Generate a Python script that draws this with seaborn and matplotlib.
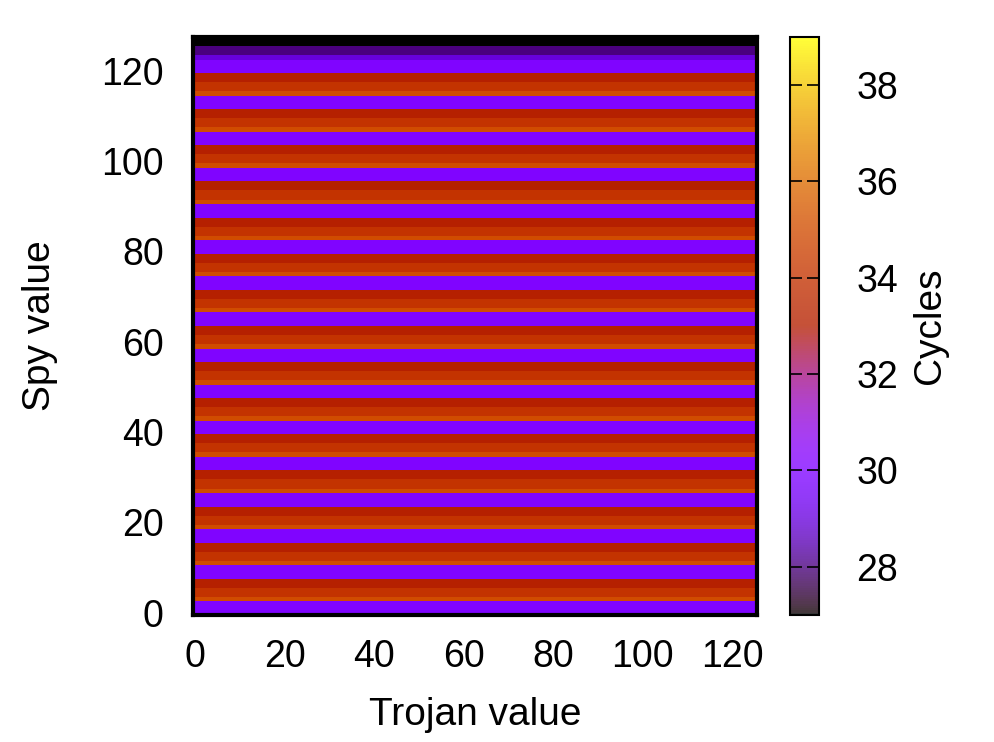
import numpy as np
import pandas as pd
import seaborn as sns
import matplotlib.pyplot as plt
from matplotlib.cm import ScalarMappable
from matplotlib.colors import Normalize, ListedColormap

# trojan values on x, spy values on y
trojan_values = list(range(126))
spy_values = list(range(128))

# cycles for each spy value (same for every trojan value)
cycles = [
    30, 30, 30, 35, 34, 34, 33, 33,   # 0-7
    30, 30, 30, 35, 34, 34, 33, 33,   # 8-15
    30, 30, 30, 35, 34, 34, 33, 33,   # 16-23
    30, 30, 30, 35, 34, 34, 33, 33,   # 24-31
    30, 30, 30, 35, 34, 34, 33, 33,   # 32-39
    30, 30, 30, 35, 34, 34, 33, 33,   # 40-47
    30, 30, 30, 35, 34, 34, 33, 33,   # 48-55
    30, 30, 30, 35, 34, 34, 33, 33,   # 56-63
    30, 30, 30, 35, 34, 34, 33, 33,   # 64-71
    30, 30, 30, 35, 34, 34, 33, 33,   # 72-79
    30, 30, 30, 35, 34, 34, 33, 33,   # 80-87
    30, 30, 30, 35, 34, 34, 33, 33,   # 88-95
    30, 30, 30, 35, 34, 34, 33, 33,   # 96-103
    30, 30, 30, 35, 34, 34, 33, 33,   # 104-111
    30, 30, 30, 35, 34, 34, 33, 33,   # 112-119
    30, 30, 30, 29, 28, 28, 27, 27,   # 120-127
]

x_ticks = [0, 20, 40, 60, 80, 100, 120]
y_ticks = [0, 20, 40, 60, 80, 100, 120]
cb_ticks = [28, 30, 32, 34, 36, 38]
cb_min, cb_max = 27, 39

df = pd.DataFrame(np.repeat(np.array(cycles)[:, None], len(trojan_values), axis=1),
                  index=spy_values, columns=trojan_values)

sns.set_style('white')
plt.rcParams['font.family'] = ['Liberation Sans', 'DejaVu Sans']
for k in ['text.color', 'axes.labelcolor', 'xtick.color', 'ytick.color']:
    plt.rcParams[k] = 'black'
fs = 27
lfs = 28

fig = plt.figure(figsize=(9.94, 7.42), dpi=100)
ax = fig.add_axes([0.1942, 0.1712, 0.5674, 0.779])
cax = fig.add_axes([0.7948, 0.1712, 0.0292, 0.779])

sns.heatmap(df, ax=ax, cmap='gnuplot', vmin=cb_min, vmax=cb_max, cbar=False,
            xticklabels=False, yticklabels=False)
ax.invert_yaxis()

ax.set_xticks(np.array(x_ticks) + 0.5)
ax.set_xticklabels([str(t) for t in x_ticks], rotation=0)
ax.set_yticks(np.array(y_ticks) + 0.5)
ax.set_yticklabels([str(t) for t in y_ticks], rotation=0)
ax.tick_params(length=0, labelsize=fs)
ax.tick_params(axis='y', pad=21)
ax.tick_params(axis='x', pad=17)
for s in ax.spines.values():
    s.set_visible(True)
    s.set_linewidth(3)
    s.set_color('black')

ax.set_xlabel('Trojan value', fontsize=lfs)
ax.set_ylabel('Spy value', fontsize=lfs)
ax.xaxis.set_label_coords(0.5, -0.173)
ax.xaxis.label.set_va('center')
ax.yaxis.set_label_coords(-0.271, 0.5)
ax.yaxis.label.set_va('center')

# colour box is drawn a bit washed out
base = plt.get_cmap('gnuplot')(np.linspace(0, 1, 256))
light = base.copy()
light[:, :3] = base[:, :3] * 0.78 + 0.22
cb = fig.colorbar(ScalarMappable(norm=Normalize(cb_min, cb_max), cmap=ListedColormap(light)),
                  cax=cax, ticks=cb_ticks)
cb.outline.set_linewidth(1.5)
cb.outline.set_edgecolor('black')
cax.set_axisbelow(False)
cax.tick_params(direction='in', length=8.5, width=1.2, left=True, right=True,
                labelsize=fs, pad=27, color='black')
cax.set_ylabel('Cycles', fontsize=lfs)
cax.yaxis.set_label_coords(4.83, 0.5)
cax.yaxis.label.set_va('center')

fig.savefig('out.png', dpi=100)
